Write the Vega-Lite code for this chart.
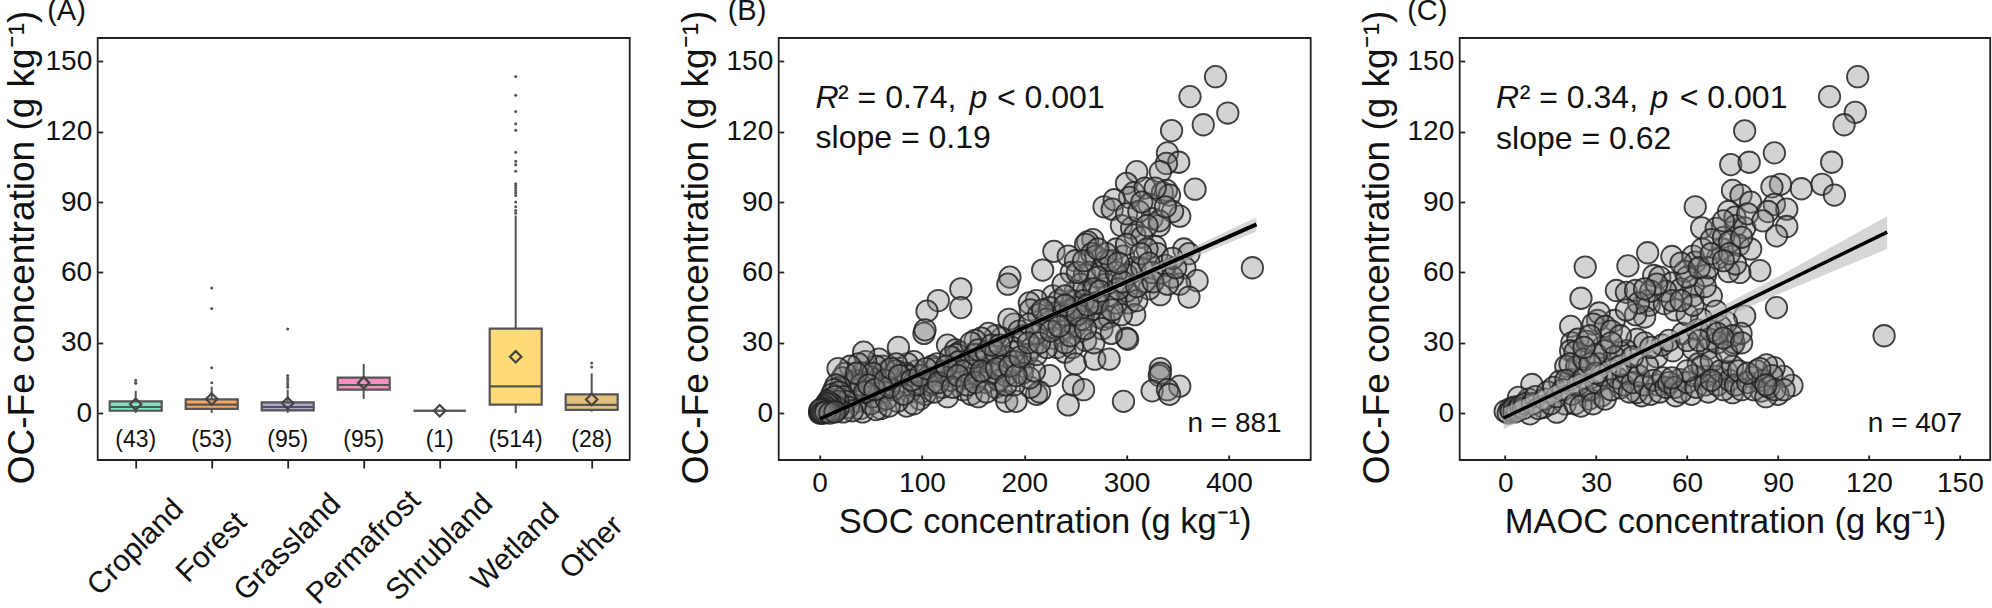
{"$schema":"https://vega.github.io/schema/vega-lite/v6.json","autosize":"none","padding":{"left":97.7,"top":38,"right":1894.3,"bottom":570},"bounds":"flush","spacing":149,
"config":{"font":"Liberation Sans","view":{"stroke":"#222","strokeWidth":1.8},"axis":{"grid":false,"domain":false,"labelFont":"Liberation Sans","titleFont":"Liberation Sans","labelFontSize":28,"titleFontSize":37,"titleFontWeight":"normal","labelColor":"#111","titleColor":"#111","tickColor":"#222","tickWidth":1.8},"title":{"font":"Liberation Sans","fontSize":28,"fontWeight":"normal","color":"#111"}},
"datasets":{
"stats":[{"cat":"Cropland","lo":0.1,"q1":1,"med":2.6,"q3":5,"hi":9.5,"mean":3.8,"n":"(43)"},{"cat":"Forest","lo":0.1,"q1":1.8,"med":3.6,"q3":5.9,"hi":11.3,"mean":6,"n":"(53)"},{"cat":"Grassland","lo":0.1,"q1":1.2,"med":2.6,"q3":4.6,"hi":10,"mean":4.2,"n":"(95)"},{"cat":"Permafrost","lo":6,"q1":10,"med":12,"q3":15.1,"hi":21,"mean":12.9,"n":"(95)"},{"cat":"Shrubland","lo":1,"q1":1,"med":1,"q3":1,"hi":1,"mean":1,"n":"(1)"},{"cat":"Wetland","lo":0,"q1":3.6,"med":11.4,"q3":36,"hi":84.3,"mean":24,"n":"(514)"},{"cat":"Other","lo":0.6,"q1":1.4,"med":3.5,"q3":8,"hi":17,"mean":5.8,"n":"(28)"}],
"out":[{"cat":"Cropland","y":14},{"cat":"Cropland","y":13},{"cat":"Cropland","y":12.7},{"cat":"Forest","y":12.9},{"cat":"Forest","y":19.4},{"cat":"Forest","y":44.6},{"cat":"Forest","y":53.4},{"cat":"Grassland","y":16},{"cat":"Grassland","y":15},{"cat":"Grassland","y":14},{"cat":"Grassland","y":13},{"cat":"Grassland","y":12},{"cat":"Grassland","y":11},{"cat":"Grassland","y":35.9},{"cat":"Wetland","y":143.6},{"cat":"Wetland","y":135.6},{"cat":"Wetland","y":128.6},{"cat":"Wetland","y":123.4},{"cat":"Wetland","y":120.7},{"cat":"Wetland","y":111.3},{"cat":"Wetland","y":107.4},{"cat":"Wetland","y":105.9},{"cat":"Wetland","y":103.2},{"cat":"Wetland","y":97.8},{"cat":"Wetland","y":97},{"cat":"Wetland","y":96},{"cat":"Wetland","y":95},{"cat":"Wetland","y":94},{"cat":"Wetland","y":92.8},{"cat":"Wetland","y":90},{"cat":"Wetland","y":88},{"cat":"Wetland","y":86.4},{"cat":"Wetland","y":85.2},{"cat":"Other","y":21.4},{"cat":"Other","y":19.7}],
"b":[{"x":387,"y":143.5},{"x":362,"y":135},{"x":399,"y":128},{"x":375,"y":123},{"x":344,"y":120.5},{"x":423,"y":62},{"x":340,"y":111},{"x":351,"y":107},{"x":339,"y":106.5},{"x":310,"y":103},{"x":333,"y":103},{"x":367,"y":95.5},{"x":300,"y":98},{"x":307,"y":94},{"x":303,"y":92},{"x":318,"y":96},{"x":335,"y":94},{"x":339,"y":95},{"x":342,"y":93},{"x":322,"y":89},{"x":278,"y":88},{"x":288,"y":91},{"x":286,"y":87},{"x":352,"y":84},{"x":345,"y":86},{"x":325,"y":83},{"x":332,"y":80},{"x":332,"y":82},{"x":295,"y":80},{"x":305,"y":79},{"x":308,"y":76},{"x":315,"y":75},{"x":328,"y":71},{"x":267,"y":74},{"x":262,"y":73},{"x":260,"y":72},{"x":229,"y":69},{"x":218,"y":61},{"x":243,"y":67},{"x":250,"y":65},{"x":266,"y":68},{"x":270,"y":67},{"x":246,"y":60},{"x":259,"y":59},{"x":264,"y":60},{"x":276,"y":62},{"x":290,"y":70},{"x":297,"y":67},{"x":283,"y":58},{"x":305,"y":60},{"x":308,"y":62},{"x":300,"y":59},{"x":330,"y":68},{"x":335,"y":60},{"x":338,"y":63},{"x":356,"y":70},{"x":361,"y":68},{"x":357,"y":62},{"x":369,"y":56.5},{"x":352,"y":55},{"x":361,"y":49.5},{"x":333,"y":50.5},{"x":322,"y":53},{"x":305,"y":50},{"x":302,"y":47},{"x":300,"y":52},{"x":308,"y":42},{"x":273,"y":41},{"x":278,"y":40},{"x":283,"y":41},{"x":276,"y":36},{"x":290,"y":47},{"x":282,"y":50},{"x":280,"y":55},{"x":262,"y":52},{"x":255,"y":55},{"x":250,"y":52},{"x":247,"y":48},{"x":228,"y":50},{"x":234,"y":48},{"x":232,"y":43},{"x":212,"y":48},{"x":205,"y":47},{"x":206,"y":44},{"x":214,"y":42},{"x":225,"y":39},{"x":228,"y":32},{"x":218,"y":36},{"x":238,"y":35},{"x":245,"y":39},{"x":250,"y":37},{"x":255,"y":35},{"x":260,"y":31},{"x":256,"y":40},{"x":265,"y":44},{"x":270,"y":47},{"x":232,"y":28},{"x":240,"y":26},{"x":247,"y":28},{"x":250,"y":21},{"x":269,"y":23},{"x":283,"y":23},{"x":300,"y":32},{"x":301,"y":31.5},{"x":333,"y":19},{"x":332,"y":16},{"x":333,"y":17},{"x":352,"y":11.5},{"x":325,"y":9.5},{"x":340,"y":10},{"x":342,"y":8},{"x":297,"y":5},{"x":243,"y":3.5},{"x":248,"y":12},{"x":258,"y":10},{"x":225,"y":16},{"x":212,"y":8},{"x":215,"y":9},{"x":206,"y":11},{"x":138,"y":53},{"x":138,"y":45},{"x":116,"y":48},{"x":105,"y":43.5},{"x":102,"y":34},{"x":103,"y":35.5},{"x":125,"y":29},{"x":133,"y":27},{"x":137,"y":26},{"x":134,"y":25},{"x":186,"y":58},{"x":184,"y":55},{"x":190,"y":38},{"x":185,"y":40},{"x":195,"y":35},{"x":200,"y":33},{"x":208,"y":28},{"x":203,"y":25},{"x":199,"y":20},{"x":188,"y":28},{"x":190,"y":26},{"x":178,"y":32},{"x":172,"y":33},{"x":165,"y":34},{"x":158,"y":32},{"x":152,"y":31},{"x":148,"y":30},{"x":182,"y":24},{"x":170,"y":22},{"x":165,"y":20},{"x":160,"y":22},{"x":150,"y":20},{"x":145,"y":22},{"x":148,"y":18},{"x":155,"y":15},{"x":162,"y":13},{"x":172,"y":11},{"x":178,"y":9},{"x":183,"y":5},{"x":192,"y":5},{"x":190,"y":12},{"x":182,"y":16},{"x":175,"y":14},{"x":167,"y":17},{"x":142,"y":15},{"x":140,"y":10},{"x":148,"y":8},{"x":155,"y":7},{"x":125,"y":7},{"x":120,"y":11},{"x":128,"y":14},{"x":118,"y":16},{"x":110,"y":20},{"x":113,"y":19},{"x":105,"y":15},{"x":100,"y":9},{"x":103,"y":8},{"x":108,"y":12},{"x":98,"y":6},{"x":95,"y":18},{"x":92,"y":22},{"x":86,"y":21},{"x":84,"y":17},{"x":86,"y":16},{"x":77,"y":28},{"x":75,"y":21},{"x":80,"y":13},{"x":88,"y":9},{"x":85,"y":3},{"x":92,"y":4},{"x":76,"y":5},{"x":72,"y":10},{"x":70,"y":15},{"x":66,"y":18},{"x":62,"y":20},{"x":58,"y":23},{"x":55,"y":20},{"x":60,"y":11},{"x":62,"y":9},{"x":58,"y":5},{"x":60,"y":2},{"x":52,"y":13},{"x":48,"y":16},{"x":45,"y":22},{"x":43,"y":26},{"x":42,"y":17},{"x":38,"y":21},{"x":35,"y":14},{"x":30,"y":20},{"x":31,"y":13},{"x":28,"y":12},{"x":33,"y":8},{"x":37,"y":5},{"x":40,"y":2},{"x":42,"y":0.5},{"x":46,"y":9},{"x":50,"y":4},{"x":52,"y":7},{"x":55,"y":1.5},{"x":65,"y":6},{"x":68,"y":3},{"x":25,"y":17},{"x":22,"y":15},{"x":18,"y":19},{"x":20,"y":11},{"x":16,"y":12},{"x":14,"y":10},{"x":12,"y":8},{"x":10,"y":6},{"x":19,"y":9},{"x":24,"y":7},{"x":26,"y":5},{"x":28,"y":2.5},{"x":32,"y":1},{"x":23,"y":0.5},{"x":18,"y":5},{"x":18,"y":2},{"x":15,"y":3},{"x":15,"y":7},{"x":14,"y":1},{"x":11,"y":4},{"x":10,"y":1},{"x":9,"y":3},{"x":8,"y":5},{"x":8,"y":2},{"x":7,"y":4},{"x":6,"y":2},{"x":5,"y":3},{"x":5,"y":1},{"x":4,"y":1.5},{"x":3,"y":2},{"x":3,"y":0.5},{"x":2,"y":1},{"x":1,"y":0.5},{"x":0,"y":0},{"x":0,"y":1},{"x":1,"y":1.5},{"x":2,"y":0},{"x":4,"y":0},{"x":6,"y":0.5},{"x":10,"y":0},{"x":15,"y":0.5},{"x":115,"y":21},{"x":122,"y":18},{"x":132,"y":19},{"x":128,"y":24},{"x":136,"y":22},{"x":140,"y":18},{"x":152,"y":25},{"x":155,"y":27},{"x":163,"y":26},{"x":172,"y":26},{"x":178,"y":20},{"x":190,"y":22},{"x":198,"y":17},{"x":205,"y":15},{"x":210,"y":18},{"x":212,"y":25},{"x":222,"y":28},{"x":240,"y":30},{"x":245,"y":33},{"x":245,"y":44},{"x":238,"y":42},{"x":225,"y":45},{"x":222,"y":40},{"x":205,"y":38},{"x":212,"y":34},{"x":268,"y":30},{"x":285,"y":34},{"x":295,"y":42},{"x":310,"y":48},{"x":318,"y":56},{"x":315,"y":62},{"x":325,"y":60},{"x":345,"y":58},{"x":345,"y":66},{"x":320,"y":70},{"x":300,"y":72},{"x":280,"y":65},{"x":272,"y":58},{"x":268,"y":53},{"x":258,"y":48},{"x":250,"y":45},{"x":238,"y":55},{"x":240,"y":50},{"x":272,"y":47},{"x":290,"y":60},{"x":285,"y":65},{"x":280,"y":68},{"x":110,"y":13},{"x":95,"y":12},{"x":75,"y":18},{"x":68,"y":11},{"x":40,"y":12},{"x":52,"y":17},{"x":36,"y":17},{"x":44,"y":9},{"x":48,"y":12},{"x":54,"y":10},{"x":64,"y":14},{"x":70,"y":19},{"x":78,"y":16},{"x":82,"y":8},{"x":90,"y":14},{"x":98,"y":16},{"x":104,"y":19},{"x":112,"y":9},{"x":116,"y":13},{"x":124,"y":20},{"x":130,"y":11},{"x":135,"y":16},{"x":144,"y":12},{"x":152,"y":13},{"x":158,"y":18},{"x":163,"y":9},{"x":168,"y":29},{"x":173,"y":19},{"x":176,"y":29},{"x":182,"y":12},{"x":186,"y":20},{"x":192,"y":16},{"x":196,"y":24},{"x":204,"y":30},{"x":215,"y":30},{"x":218,"y":44},{"x":226,"y":35},{"x":234,"y":37},{"x":240,"y":46},{"x":252,"y":42},{"x":260,"y":36},{"x":262,"y":46},{"x":274,"y":52},{"x":286,"y":44},{"x":292,"y":53},{"x":296,"y":56},{"x":310,"y":54},{"x":314,"y":68},{"x":322,"y":64},{"x":326,"y":56},{"x":340,"y":55},{"x":348,"y":62},{"x":292,"y":64},{"x":252,"y":60},{"x":258,"y":65},{"x":272,"y":70},{"x":300,"y":85},{"x":312,"y":86},{"x":320,"y":80},{"x":338,"y":88},{"x":328,"y":96},{"x":315,"y":90}],
"c":[{"x":116.3,"y":143.5},{"x":107,"y":135},{"x":115.5,"y":128.3},{"x":111.8,"y":123},{"x":79,"y":120.4},{"x":88.8,"y":111},{"x":74.4,"y":106},{"x":80.5,"y":107},{"x":107.7,"y":107},{"x":104.5,"y":97.6},{"x":108.6,"y":93},{"x":97.7,"y":95.7},{"x":90.8,"y":97.6},{"x":88,"y":96.5},{"x":75,"y":95},{"x":77.8,"y":93},{"x":81,"y":90},{"x":88.8,"y":89},{"x":92.9,"y":87},{"x":86.7,"y":86},{"x":73.7,"y":86},{"x":62.7,"y":88},{"x":75.8,"y":83.6},{"x":76,"y":80},{"x":79,"y":79},{"x":64.8,"y":79},{"x":92.9,"y":79.6},{"x":89.5,"y":75.6},{"x":69.6,"y":78.8},{"x":77,"y":71.6},{"x":81,"y":70},{"x":71.6,"y":70},{"x":84,"y":60.8},{"x":77.4,"y":60},{"x":73.7,"y":60.4},{"x":76,"y":63.6},{"x":47,"y":68.4},{"x":55,"y":66.8},{"x":62,"y":67},{"x":62.7,"y":64.4},{"x":40.5,"y":62.8},{"x":26.4,"y":62.3},{"x":49,"y":58.7},{"x":51,"y":58},{"x":59.3,"y":60.4},{"x":66,"y":58.7},{"x":55,"y":55.5},{"x":58,"y":53},{"x":62,"y":54},{"x":62,"y":50},{"x":68,"y":50},{"x":36.7,"y":52.3},{"x":40,"y":51.5},{"x":43,"y":52.3},{"x":25,"y":49},{"x":47,"y":48},{"x":47.5,"y":46},{"x":52.5,"y":46.7},{"x":56,"y":44},{"x":46,"y":41},{"x":43,"y":42},{"x":36,"y":39.5},{"x":30.5,"y":39.5},{"x":31,"y":42.7},{"x":29,"y":38},{"x":33,"y":37},{"x":21.6,"y":37},{"x":69.6,"y":43.5},{"x":79,"y":41.4},{"x":89.5,"y":45},{"x":64.8,"y":40},{"x":125,"y":33},{"x":43.5,"y":31.5},{"x":40,"y":26.6},{"x":32,"y":28},{"x":22,"y":30},{"x":24,"y":31.5},{"x":21.6,"y":26.6},{"x":23,"y":26},{"x":27,"y":30.6},{"x":33,"y":26.6},{"x":38,"y":26},{"x":24.4,"y":19.7},{"x":20,"y":20},{"x":34.6,"y":18.6},{"x":43.5,"y":21},{"x":50,"y":24},{"x":55.3,"y":26.6},{"x":51.8,"y":29},{"x":58.6,"y":34},{"x":63.4,"y":35.5},{"x":62,"y":27.4},{"x":66.8,"y":27.4},{"x":75,"y":29},{"x":75.5,"y":30},{"x":77.8,"y":34},{"x":71,"y":37},{"x":73,"y":38.7},{"x":75,"y":33},{"x":67.5,"y":31.5},{"x":94.6,"y":11.8},{"x":91.7,"y":15.7},{"x":88.7,"y":19.4},{"x":86.2,"y":20.6},{"x":81.8,"y":15.3},{"x":84.5,"y":9.4},{"x":90,"y":8},{"x":75,"y":8.7},{"x":73,"y":17.8},{"x":69.7,"y":15.7},{"x":65.9,"y":15.7},{"x":63.7,"y":21},{"x":56.3,"y":7.4},{"x":57.6,"y":14.3},{"x":61.5,"y":8},{"x":50.5,"y":12},{"x":45,"y":7.4},{"x":43.4,"y":8.8},{"x":38,"y":10.8},{"x":31.8,"y":7.4},{"x":27.7,"y":6},{"x":25.7,"y":9.4},{"x":19.8,"y":3.9},{"x":17,"y":0.4},{"x":8.8,"y":12.2},{"x":7.7,"y":6},{"x":4.4,"y":6.7},{"x":1.6,"y":1.8},{"x":0,"y":0.8},{"x":12.6,"y":2.5},{"x":8.2,"y":-0.3},{"x":18,"y":13.6},{"x":21.4,"y":14.3},{"x":23.6,"y":19.9},{"x":21.4,"y":21},{"x":1,"y":0},{"x":2,"y":1},{"x":3,"y":0.5},{"x":3,"y":2.5},{"x":4,"y":1},{"x":5,"y":3},{"x":6,"y":2},{"x":6.5,"y":4},{"x":9,"y":4},{"x":10,"y":7},{"x":11,"y":2},{"x":13,"y":6},{"x":14,"y":9},{"x":15,"y":4},{"x":16,"y":11},{"x":17,"y":7},{"x":19,"y":10},{"x":20,"y":14},{"x":22,"y":8},{"x":23,"y":4},{"x":24,"y":12},{"x":25,"y":3},{"x":26,"y":15},{"x":28,"y":10},{"x":29,"y":4},{"x":30,"y":13},{"x":31,"y":21},{"x":32,"y":16},{"x":33,"y":6},{"x":35,"y":10},{"x":36,"y":24},{"x":37,"y":15},{"x":39,"y":12},{"x":40,"y":17},{"x":41,"y":9},{"x":42,"y":13},{"x":44,"y":16},{"x":46,"y":12},{"x":47,"y":20},{"x":48,"y":8},{"x":49,"y":14},{"x":51,"y":9},{"x":52,"y":15},{"x":53,"y":11},{"x":54,"y":13},{"x":56,"y":11},{"x":58,"y":9},{"x":60,"y":13},{"x":62,"y":16},{"x":63,"y":11},{"x":65,"y":20},{"x":66,"y":12},{"x":67,"y":9},{"x":68,"y":22},{"x":70,"y":12},{"x":71,"y":18},{"x":72,"y":10},{"x":74,"y":14},{"x":75,"y":20},{"x":76,"y":12},{"x":77,"y":18},{"x":78,"y":10},{"x":80,"y":13},{"x":82,"y":10},{"x":83,"y":18},{"x":85,"y":14},{"x":86,"y":7},{"x":87,"y":11},{"x":88,"y":16},{"x":89,"y":10},{"x":92,"y":10},{"x":70,"y":30},{"x":73,"y":26},{"x":68,"y":35},{"x":60,"y":42},{"x":62,"y":46},{"x":66,"y":54},{"x":70,"y":66},{"x":65,"y":70},{"x":68,"y":74},{"x":72,"y":75},{"x":74,"y":73},{"x":67,"y":62},{"x":60,"y":58},{"x":53,"y":52},{"x":48,"y":52},{"x":44,"y":47},{"x":40,"y":44},{"x":35,"y":35},{"x":38,"y":33},{"x":26,"y":23},{"x":28,"y":33},{"x":30,"y":25},{"x":35,"y":30},{"x":46,"y":30},{"x":48,"y":28},{"x":54,"y":31},{"x":60,"y":31},{"x":64,"y":31},{"x":70,"y":34},{"x":72,"y":32},{"x":78,"y":30},{"x":38,"y":20},{"x":42,"y":24},{"x":30,"y":17},{"x":28,"y":21},{"x":26,"y":28},{"x":55,"y":48},{"x":50,"y":55},{"x":46,"y":53},{"x":58,"y":64},{"x":64,"y":62},{"x":68,"y":68},{"x":74,"y":68},{"x":78,"y":75},{"x":72,"y":82},{"x":80,"y":85},{"x":85,"y":82},{"x":72,"y":65},{"x":58,"y":48},{"x":60,"y":18},{"x":55,"y":15},{"x":68,"y":14},{"x":80,"y":17},{"x":84,"y":19},{"x":86,"y":12}],
"bfit":[{"x":0,"y":-2.5,"lo":-3.5,"hi":-1.5},{"x":100,"y":17,"lo":16.1,"hi":17.9},{"x":200,"y":36.5,"lo":35.6,"hi":37.5},{"x":300,"y":56,"lo":54.6,"hi":57.4},{"x":427,"y":80.5,"lo":77.5,"hi":83.5}],
"cfit":[{"x":-0.5,"y":-2.1,"lo":-7,"hi":2},{"x":30,"y":16.7,"lo":13.7,"hi":19.5},{"x":60,"y":35.5,"lo":33.5,"hi":37.8},{"x":90,"y":54.5,"lo":50.7,"hi":58.2},{"x":126,"y":77.2,"lo":70,"hi":84}]
},
"hconcat":[
{"width":532,"height":422,"title":{"text":"(A)","anchor":"start","frame":"group","dx":-50.5,"offset":-16,"fontSize":29},
"encoding":{"x":{"field":"cat","type":"nominal","sort":["Cropland","Forest","Grassland","Permafrost","Shrubland","Wetland","Other"],"scale":{"domain":["Cropland","Forest","Grassland","Permafrost","Shrubland","Wetland","Other"],"paddingInner":0,"paddingOuter":0},"axis":{"title":null,"labelAngle":-45,"labelAlign":"center","labelBaseline":"middle","tickSize":8,"labelPadding":79,"labelFontSize":30}}},
"layer":[
{"data":{"name":"stats"},"mark":{"type":"rule","color":"#555","strokeWidth":2},"encoding":{"y":{"field":"lo","type":"quantitative","scale":{"domain":[-20,160],"nice":false},"axis":{"title":"OC-Fe concentration (g kg⁻¹)","values":[0,30,60,90,120,150],"tickSize":-5,"labelPadding":11,"titleX":-64,"titleY":209,"titleBaseline":"alphabetic","titleAngle":-90}},"y2":{"field":"hi"}}},
{"data":{"name":"stats"},"mark":{"type":"bar","size":52,"stroke":"#555","strokeWidth":2.2},"encoding":{"y":{"field":"q1","type":"quantitative"},"y2":{"field":"q3"},"fill":{"field":"cat","type":"nominal","legend":null,"scale":{"domain":["Cropland","Forest","Grassland","Permafrost","Shrubland","Wetland","Other"],"range":["#7FE3BE","#F9A660","#ABA8D4","#F48FC0","#BBBBBB","#FFDB78","#E5C07A"]}}}},
{"data":{"name":"stats"},"mark":{"type":"tick","orient":"horizontal","size":52,"color":"#555","thickness":2.2,"opacity":1},"encoding":{"y":{"field":"med","type":"quantitative"}}},
{"data":{"name":"stats"},"mark":{"type":"point","shape":"diamond","size":130,"stroke":"#444","strokeWidth":2.2,"filled":false,"opacity":1},"encoding":{"y":{"field":"mean","type":"quantitative"}}},
{"data":{"name":"out"},"mark":{"type":"circle","size":9,"color":"#555","opacity":1},"encoding":{"y":{"field":"y","type":"quantitative"}}},
{"data":{"name":"stats"},"mark":{"type":"text","fontSize":23,"baseline":"middle","color":"#111"},"encoding":{"y":{"datum":-11.5},"text":{"field":"n"}}}
]},
{"width":532,"height":422,"title":{"text":"(B)","anchor":"start","frame":"group","dx":-51,"offset":-16,"fontSize":29},
"encoding":{"x":{"field":"x","type":"quantitative","scale":{"domain":[-40,480],"nice":false},"axis":{"title":"SOC concentration (g kg⁻¹)","titleFontSize":34.5,"titleBaseline":"alphabetic","titleY":72,"values":[0,100,200,300,400],"tickSize":-5,"labelPadding":14}},"y":{"field":"y","type":"quantitative","scale":{"domain":[-20,160],"nice":false},"axis":{"title":"OC-Fe concentration (g kg⁻¹)","values":[0,30,60,90,120,150],"tickSize":-5,"labelPadding":11,"titleX":-71.5,"titleY":209,"titleBaseline":"alphabetic","titleAngle":-90}}},
"layer":[
{"data":{"name":"b"},"mark":{"type":"point","filled":true,"size":462,"fill":"#808080","fillOpacity":0.35,"stroke":"#222","strokeOpacity":0.85,"strokeWidth":1.8,"opacity":1}},
{"data":{"name":"bfit"},"mark":{"type":"area","color":"#bbb","opacity":0.6},"encoding":{"y":{"field":"lo","type":"quantitative"},"y2":{"field":"hi"}}},
{"data":{"name":"bfit"},"mark":{"type":"line","color":"#000","strokeWidth":4}},
{"data":{"values":[{"t":"R","x":-4,"y":130},{"t":"p","x":146.4,"y":130}]},"mark":{"type":"text","align":"left","baseline":"alphabetic","fontSize":32,"fontStyle":"italic","color":"#111"},"encoding":{"text":{"field":"t"}}},
{"data":{"values":[{"t":"² = 0.74,","x":18,"y":130},{"t":"< 0.001","x":173.4,"y":130},{"t":"slope = 0.19","x":-4,"y":113}]},"mark":{"type":"text","align":"left","baseline":"alphabetic","fontSize":32,"color":"#111"},"encoding":{"text":{"field":"t"}}},
{"data":{"values":[{"t":"n = 881","x":451.6,"y":-8}]},"mark":{"type":"text","align":"right","baseline":"alphabetic","fontSize":28,"color":"#111"},"encoding":{"text":{"field":"t"}}}
]},
{"width":530.5,"height":422,"title":{"text":"(C)","anchor":"start","frame":"group","dx":-52.5,"offset":-16,"fontSize":29},
"encoding":{"x":{"field":"x","type":"quantitative","scale":{"domain":[-15,160],"nice":false},"axis":{"title":"MAOC concentration (g kg⁻¹)","titleFontSize":34.5,"titleBaseline":"alphabetic","titleY":72,"values":[0,30,60,90,120,150],"tickSize":-5,"labelPadding":14}},"y":{"field":"y","type":"quantitative","scale":{"domain":[-20,160],"nice":false},"axis":{"title":"OC-Fe concentration (g kg⁻¹)","values":[0,30,60,90,120,150],"tickSize":-5,"labelPadding":11,"titleX":-71,"titleY":209,"titleBaseline":"alphabetic","titleAngle":-90}}},
"layer":[
{"data":{"name":"c"},"mark":{"type":"point","filled":true,"size":462,"fill":"#808080","fillOpacity":0.35,"stroke":"#222","strokeOpacity":0.85,"strokeWidth":1.8,"opacity":1}},
{"data":{"name":"cfit"},"mark":{"type":"area","color":"#bbb","opacity":0.6},"encoding":{"y":{"field":"lo","type":"quantitative"},"y2":{"field":"hi"}}},
{"data":{"name":"cfit"},"mark":{"type":"line","color":"#000","strokeWidth":3.5}},
{"data":{"values":[{"t":"R","x":-3,"y":130},{"t":"p","x":47.9,"y":130}]},"mark":{"type":"text","align":"left","baseline":"alphabetic","fontSize":32,"fontStyle":"italic","color":"#111"},"encoding":{"text":{"field":"t"}}},
{"data":{"values":[{"t":"² = 0.34,","x":4.8,"y":130},{"t":"< 0.001","x":57.6,"y":130},{"t":"slope = 0.62","x":-3,"y":112.5}]},"mark":{"type":"text","align":"left","baseline":"alphabetic","fontSize":32,"color":"#111"},"encoding":{"text":{"field":"t"}}},
{"data":{"values":[{"t":"n = 407","x":150.7,"y":-8}]},"mark":{"type":"text","align":"right","baseline":"alphabetic","fontSize":28,"color":"#111"},"encoding":{"text":{"field":"t"}}}
]}
]}
